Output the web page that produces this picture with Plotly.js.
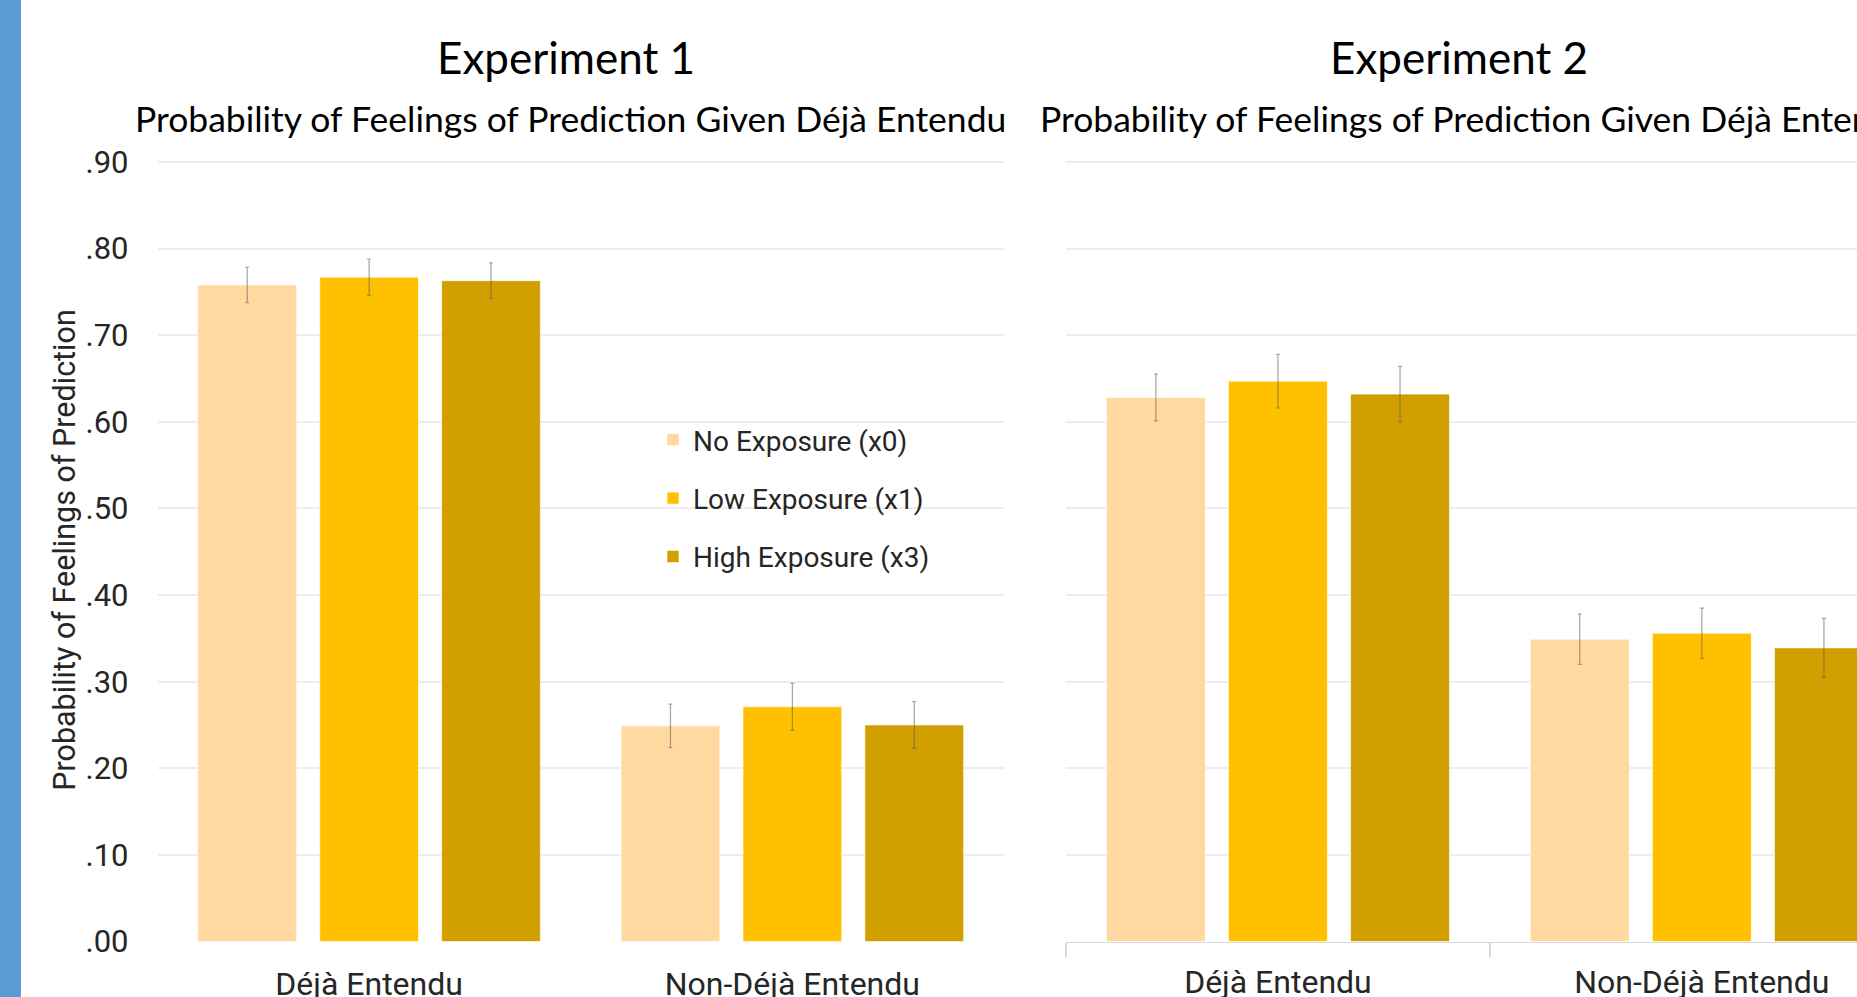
<!DOCTYPE html>
<html>
<head>
<meta charset="utf-8">
<script src="https://cdn.plot.ly/plotly-3.0.1.min.js"></script>
<style>
html,body{margin:0;padding:0;background:#fff;}
#chart{width:1857px;height:997px;}
</style>
</head>
<body>
<div id="chart"></div>
<script>
// ---- data ----
var categories = ['Déjà Entendu', 'Non-Déjà Entendu'];
var seriesNames = ['No Exposure (x0)', 'Low Exposure (x1)', 'High Exposure (x3)'];

var exp1NoExposure   = [0.758, 0.249];
var exp1LowExposure  = [0.767, 0.271];
var exp1HighExposure = [0.763, 0.250];
var exp1NoErr   = [0.0205, 0.025];
var exp1LowErr  = [0.021, 0.027];
var exp1HighErr = [0.0205, 0.027];

var exp2NoExposure   = [0.628, 0.349];
var exp2LowExposure  = [0.647, 0.356];
var exp2HighExposure = [0.632, 0.339];
var exp2NoErr   = [0.027, 0.029];
var exp2LowErr  = [0.031, 0.029];
var exp2HighErr = [0.032, 0.034];

var yTickVals = [0, 0.1, 0.2, 0.3, 0.4, 0.5, 0.6, 0.7, 0.8, 0.9];
var yTickText = ['.00', '.10', '.20', '.30', '.40', '.50', '.60', '.70', '.80', '.90'];

var chartTitles = ['Experiment 1', 'Experiment 2'];
var chartSubtitle = 'Probability of Feelings of Prediction Given Déjà Entendu';
var yAxisTitle = 'Probability of Feelings of Prediction';

// ---- styling ----
var colors = ['#FFD9A0', '#FFC000', '#D29F00'];
var W = 1857, H = 997;
var tickFont = {family: 'Roboto, Liberation Sans, sans-serif', size: 31, color: '#262626'};
var catFont = {family: 'Roboto, Liberation Sans, sans-serif', size: 32, color: '#262626'};

function makeTrace(vals, errs, idx, xa, ya, show) {
  return {
    type: 'bar',
    x: categories,
    y: vals,
    name: seriesNames[idx],
    legendgroup: 'g' + idx,
    showlegend: show,
    xaxis: xa, yaxis: ya,
    marker: {color: colors[idx], line: {color: 'rgba(255,255,255,0.6)', width: 1}},
    error_y: {type: 'data', array: errs, visible: true, color: 'rgba(90,90,90,0.55)', thickness: 1.2, width: 2},
    hoverinfo: 'skip'
  };
}

var data = [
  makeTrace(exp1NoExposure, exp1NoErr, 0, 'x', 'y', true),
  makeTrace(exp1LowExposure, exp1LowErr, 1, 'x', 'y', true),
  makeTrace(exp1HighExposure, exp1HighErr, 2, 'x', 'y', true),
  makeTrace(exp2NoExposure, exp2NoErr, 0, 'x2', 'y2', false),
  makeTrace(exp2LowExposure, exp2LowErr, 1, 'x2', 'y2', false),
  makeTrace(exp2HighExposure, exp2HighErr, 2, 'x2', 'y2', false)
];

var yTop = 0.904;
var pxPerUnit = (941.5 - 162) / 0.9;
var yDomain = [(H - 941.5) / H, (H - (941.5 - yTop * pxPerUnit)) / H];

var layout = {
  width: W, height: H,
  margin: {l: 0, r: 0, t: 0, b: 0},
  paper_bgcolor: '#fff', plot_bgcolor: 'rgba(0,0,0,0)',
  barmode: 'group',
  bargap: 0.136,
  bargroupgap: 0.19,
  showlegend: true,
  legend: {
    x: 653 / W, y: (H - 415) / H, xanchor: 'left', yanchor: 'top',
    bgcolor: 'rgba(0,0,0,0)',
    font: {family: 'Roboto, Liberation Sans, sans-serif', size: 28, color: '#262626'},
    tracegroupgap: 19, itemwidth: 30
  },
  xaxis: {
    domain: [157.5 / W, 1004 / W], anchor: 'y',
    type: 'category', range: [-0.5, 1.5],
    showgrid: false, zeroline: false, showline: false,
    ticks: 'outside', ticklen: 14, tickcolor: 'rgba(0,0,0,0)',
    tickfont: catFont, automargin: false, fixedrange: true
  },
  yaxis: {
    domain: yDomain, anchor: 'x',
    range: [0, yTop], tickvals: yTickVals, ticktext: yTickText,
    showgrid: true, gridcolor: '#EDEDED', gridwidth: 2,
    zeroline: false, showline: false, ticks: '',
    ticklabelstandoff: 28,
    tickfont: tickFont, automargin: false,
    title: {text: yAxisTitle, font: {family: 'Roboto, Liberation Sans, sans-serif', size: 30.5, color: '#262626'}, standoff: 0}
  },
  xaxis2: {
    domain: [1066 / W, 1], anchor: 'y2',
    type: 'category', range: [-0.5, 1.366],
    showgrid: false, zeroline: false,
    showline: true, linecolor: '#D9D9D9', linewidth: 1.5,
    ticks: 'outside', tickson: 'boundaries', ticklen: 14, tickcolor: '#D9D9D9', tickwidth: 1.5,
    ticklabelstandoff: 12,
    tickfont: catFont, automargin: false
  },
  yaxis2: {
    domain: yDomain, anchor: 'x2',
    range: [0, yTop], tickvals: yTickVals,
    showgrid: true, gridcolor: '#EDEDED', gridwidth: 2,
    zeroline: false, showline: false, ticks: '', showticklabels: false,
    automargin: false
  },
  shapes: [
    {type: 'rect', xref: 'paper', yref: 'paper', x0: 0, x1: 21 / W, y0: 0, y1: 1,
     fillcolor: '#5B9BD5', line: {width: 0}, layer: 'above'}
  ],
  annotations: [
    {text: chartTitles[0], xref: 'paper', yref: 'paper', x: 566 / W, y: 1 - 57 / H,
     xanchor: 'center', yanchor: 'middle', showarrow: false,
     font: {family: 'Lato, Open Sans, sans-serif', size: 44, color: '#000'}},
    {text: chartSubtitle, xref: 'paper', yref: 'paper', x: 570 / W, y: 1 - 118 / H,
     xanchor: 'center', yanchor: 'middle', showarrow: false,
     font: {family: 'Lato, Open Sans, sans-serif', size: 35.5, color: '#000'}},
    {text: chartTitles[1], xref: 'paper', yref: 'paper', x: 1459 / W, y: 1 - 57 / H,
     xanchor: 'center', yanchor: 'middle', showarrow: false,
     font: {family: 'Lato, Open Sans, sans-serif', size: 44, color: '#000'}},
    {text: chartSubtitle, xref: 'paper', yref: 'paper', x: 1038 / W, y: 1 - 118 / H,
     xanchor: 'left', yanchor: 'middle', showarrow: false,
     font: {family: 'Lato, Open Sans, sans-serif', size: 35.5, color: '#000'}}
  ]
};

Plotly.newPlot('chart', data, layout, {displayModeBar: false, staticPlot: true});
</script>
</body>
</html>
